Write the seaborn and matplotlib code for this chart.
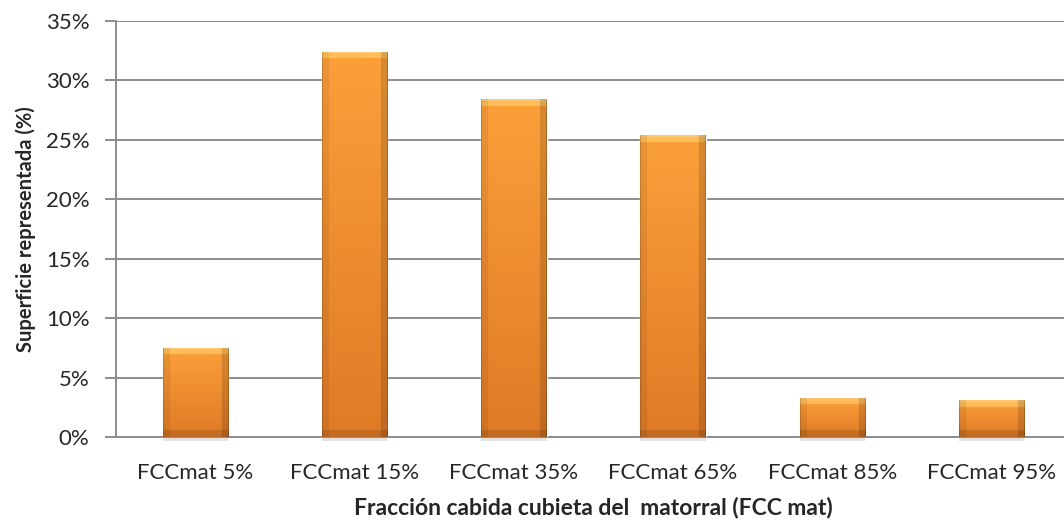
import numpy as np
import pandas as pd
import seaborn as sns
import matplotlib
matplotlib.use('Agg')
import matplotlib.pyplot as plt
from matplotlib.ticker import FuncFormatter

# datos
categorias = ['FCCmat 5%', 'FCCmat 15%', 'FCCmat 35%', 'FCCmat 65%', 'FCCmat 85%', 'FCCmat 95%']
superficie = [7.5, 32.4, 28.4, 25.4, 3.3, 3.1]
yticks = [0, 5, 10, 15, 20, 25, 30, 35]

sns.set_style('white')
plt.rcParams['font.family'] = ['Lato', 'DejaVu Sans']

df = pd.DataFrame({'cat': categorias, 'val': superficie})

fig = plt.figure(figsize=(10.64, 5.32), dpi=100)
ax = fig.add_axes([116 / 1064, 95 / 532, 955 / 1064, 416 / 532])

sns.barplot(data=df, x='cat', y='val', color='#F28C28', width=0.41, ax=ax,
            saturation=1, zorder=3)

ax.set_ylim(0, 35)
ax.set_xlim(-0.5, len(categorias) - 0.5)
ax.set_yticks(yticks)
ax.yaxis.set_major_formatter(FuncFormatter(lambda v, p: f'{v:.0f}%'))
ax.grid(axis='y', color='#8c8c8c', linewidth=1.4, zorder=0)
ax.grid(axis='x', visible=False)

for s in ['top', 'right']:
    ax.spines[s].set_visible(False)
ax.spines['left'].set_color('#8c8c8c')
ax.spines['left'].set_linewidth(1.4)
ax.spines['bottom'].set_color('#8c8c8c')
ax.spines['bottom'].set_linewidth(1.4)
ax.tick_params(axis='y', length=8, width=1.4, color='#8c8c8c', labelsize=16,
               pad=11, left=True)
ax.tick_params(axis='x', length=0, labelsize=16, pad=18.5)

ax.set_xlabel('Fracción cabida cubieta del  matorral (FCC mat)', fontsize=16.5,
              fontweight='bold', labelpad=10)
ax.set_ylabel('Superficie representada (%)', fontsize=14.5, fontweight='bold',
              labelpad=7)

# degradado con bisel para imitar el estilo de Excel
fig.canvas.draw()
top_c = np.array([0xFB, 0xA0, 0x3A]) / 255
bot_c = np.array([0xDF, 0x7A, 0x26]) / 255
for p in list(ax.patches):
    x0, y0, w, h = p.get_x(), p.get_y(), p.get_width(), p.get_height()
    (px0, py0), (px1, py1) = ax.transData.transform([(x0, y0), (x0 + w, y0 + h)])
    nw, nh = max(int(px1 - px0), 2), max(int(py1 - py0), 2)
    t = np.linspace(0, 1, nh)[:, None]
    img = top_c * (1 - t[..., None]) + bot_c * t[..., None]
    img = np.repeat(img, nw, axis=1)
    b = 7
    img[:b, :, :] = np.clip(img[:b, :, :] * 1.0 + 0.12, 0, 1)
    img[:2, :, :] = np.array([0xFF, 0xC8, 0x70]) / 255
    img[-b:, :, :] *= 0.88
    img[:, :b, :] *= 0.93
    img[:, -b:, :] *= 0.86
    img[:, :1, :] *= 0.85
    img[:, -1:, :] *= 0.8
    im = ax.imshow(img, extent=(x0, x0 + w, y0, y0 + h), aspect='auto',
                   origin='upper', zorder=4, interpolation='bilinear')
    im.set_clip_path(p)
    # sombra suave bajo la barra
    ax.add_patch(plt.Rectangle((x0, y0 - 0.35), w, 0.35, color='#d0d0d0',
                               alpha=0.6, zorder=2, clip_on=False, lw=0))

ax.set_xlim(-0.5, len(categorias) - 0.5)
ax.set_ylim(0, 35)

fig.savefig('out.png', dpi=100)
